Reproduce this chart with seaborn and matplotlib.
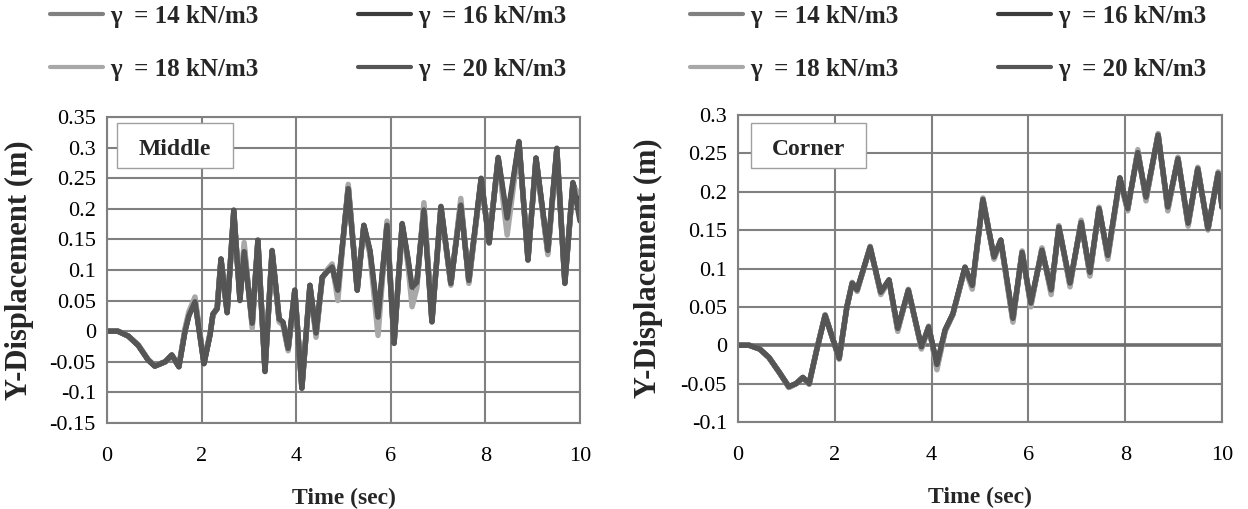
import numpy as np
import pandas as pd
import matplotlib
matplotlib.use("Agg")
import matplotlib.pyplot as plt
from matplotlib.lines import Line2D
from matplotlib.patches import Rectangle
import seaborn as sns

# ---------------- data ----------------
series_names = ["14", "16", "18", "20"]
legend_labels = ["\u03b3  = 14 kN/m3", "\u03b3  = 16 kN/m3", "\u03b3  = 18 kN/m3", "\u03b3  = 20 kN/m3"]

# Middle (left panel)
mid_t = [0, 0.23, 0.45, 0.66, 0.87, 1.01, 1.23, 1.37, 1.52, 1.65,
         1.73, 1.86, 2.05, 2.18, 2.24, 2.33, 2.41, 2.54, 2.68, 2.81,
         2.9, 3.07, 3.19, 3.34, 3.49, 3.64, 3.72, 3.83, 3.97, 4.12,
         4.29, 4.42, 4.55, 4.65, 4.76, 4.88, 5.1, 5.29, 5.43, 5.56,
         5.73, 5.92, 6.07, 6.24, 6.36, 6.45, 6.55, 6.7, 6.87, 7.06,
         7.27, 7.48, 7.65, 7.91, 8.08, 8.27, 8.46, 8.71, 8.9, 9.07,
         9.32, 9.51, 9.68, 9.85, 10.0]
mid_14 = [0, 0, -0.008, -0.023, -0.047, -0.057, -0.05, -0.039, -0.058, 0.002,
          0.028, 0.052, -0.052, -0.004, 0.027, 0.038, 0.117, 0.032, 0.195, 0.055,
          0.138, 0.01, 0.147, -0.063, 0.13, 0.018, 0.013, -0.03, 0.066, -0.092,
          0.074, -0.006, 0.087, 0.098, 0.107, 0.06, 0.237, 0.068, 0.172, 0.128,
          0.01, 0.176, -0.018, 0.174, 0.115, 0.06, 0.075, 0.204, 0.018, 0.202,
          0.077, 0.21, 0.08, 0.248, 0.147, 0.282, 0.17, 0.308, 0.118, 0.282,
          0.128, 0.297, 0.08, 0.24, 0.215]
mid_16 = [0, 0, -0.008, -0.023, -0.047, -0.057, -0.05, -0.039, -0.058, 0.001,
          0.026, 0.05, -0.053, -0.005, 0.028, 0.037, 0.118, 0.031, 0.197, 0.052,
          0.133, 0.012, 0.148, -0.065, 0.131, 0.019, 0.014, -0.029, 0.067, -0.093,
          0.075, -0.004, 0.088, 0.097, 0.106, 0.064, 0.235, 0.067, 0.173, 0.13,
          0.017, 0.174, -0.019, 0.175, 0.118, 0.066, 0.078, 0.2, 0.016, 0.203,
          0.078, 0.208, 0.082, 0.249, 0.145, 0.283, 0.178, 0.309, 0.117, 0.283,
          0.13, 0.298, 0.079, 0.242, 0.205]
mid_18 = [0, 0, -0.008, -0.022, -0.046, -0.056, -0.05, -0.04, -0.057, 0.005,
          0.032, 0.056, -0.05, -0.002, 0.025, 0.04, 0.115, 0.035, 0.19, 0.06,
          0.145, 0.005, 0.145, -0.06, 0.128, 0.015, 0.01, -0.032, 0.065, -0.09,
          0.072, -0.01, 0.085, 0.1, 0.11, 0.05, 0.24, 0.07, 0.17, 0.125,
          -0.007, 0.18, -0.015, 0.172, 0.11, 0.04, 0.07, 0.21, 0.02, 0.2,
          0.075, 0.217, 0.078, 0.245, 0.15, 0.28, 0.157, 0.305, 0.12, 0.28,
          0.125, 0.295, 0.085, 0.235, 0.225]
mid_20 = [0, 0, -0.008, -0.023, -0.047, -0.057, -0.05, -0.039, -0.058, 0.0,
          0.025, 0.048, -0.053, -0.005, 0.028, 0.037, 0.118, 0.03, 0.198, 0.05,
          0.13, 0.013, 0.149, -0.066, 0.132, 0.02, 0.015, -0.028, 0.067, -0.093,
          0.075, -0.003, 0.088, 0.097, 0.105, 0.067, 0.233, 0.067, 0.173, 0.132,
          0.023, 0.173, -0.02, 0.176, 0.12, 0.072, 0.08, 0.198, 0.015, 0.204,
          0.078, 0.206, 0.083, 0.25, 0.144, 0.284, 0.185, 0.31, 0.116, 0.283,
          0.132, 0.299, 0.078, 0.243, 0.18]

# Corner (right panel)
cor_t = [0, 0.23, 0.45, 0.64, 0.85, 1.05, 1.2, 1.34, 1.47, 1.63,
         1.8, 2.09, 2.25, 2.36, 2.46, 2.73, 2.95, 3.12, 3.3, 3.52,
         3.79, 3.94, 4.11, 4.28, 4.44, 4.69, 4.84, 5.06, 5.29, 5.43,
         5.68, 5.87, 6.05, 6.28, 6.47, 6.63, 6.86, 7.09, 7.27, 7.46,
         7.64, 7.89, 8.05, 8.26, 8.43, 8.68, 8.88, 9.09, 9.3, 9.5,
         9.71, 9.92, 10.0]
cor_14 = [0, 0, -0.005, -0.016, -0.035, -0.055, -0.05, -0.042, -0.05, -0.005,
          0.039, -0.018, 0.05, 0.081, 0.071, 0.128, 0.067, 0.085, 0.02, 0.072,
          -0.004, 0.024, -0.029, 0.019, 0.04, 0.101, 0.075, 0.191, 0.113, 0.136,
          0.032, 0.122, 0.052, 0.126, 0.069, 0.155, 0.078, 0.162, 0.092, 0.179,
          0.114, 0.217, 0.176, 0.253, 0.19, 0.275, 0.177, 0.244, 0.157, 0.231,
          0.151, 0.225, 0.183]
cor_16 = [0, 0, -0.005, -0.016, -0.035, -0.054, -0.05, -0.042, -0.05, -0.005,
          0.039, -0.017, 0.05, 0.081, 0.072, 0.127, 0.069, 0.085, 0.021, 0.071,
          -0.003, 0.024, -0.026, 0.02, 0.041, 0.101, 0.077, 0.189, 0.114, 0.137,
          0.034, 0.121, 0.054, 0.124, 0.071, 0.154, 0.08, 0.16, 0.094, 0.178,
          0.116, 0.218, 0.177, 0.252, 0.192, 0.274, 0.179, 0.243, 0.158, 0.23,
          0.151, 0.224, 0.18]
cor_18 = [0, 0, -0.005, -0.016, -0.035, -0.055, -0.05, -0.042, -0.051, -0.004,
          0.04, -0.018, 0.05, 0.082, 0.07, 0.129, 0.066, 0.084, 0.018, 0.073,
          -0.005, 0.025, -0.032, 0.018, 0.04, 0.1, 0.073, 0.192, 0.112, 0.135,
          0.03, 0.123, 0.05, 0.127, 0.066, 0.156, 0.076, 0.163, 0.09, 0.18,
          0.112, 0.216, 0.175, 0.255, 0.188, 0.276, 0.175, 0.245, 0.155, 0.232,
          0.15, 0.226, 0.185]
cor_20 = [0, 0, -0.005, -0.016, -0.035, -0.054, -0.05, -0.042, -0.05, -0.005,
          0.039, -0.017, 0.05, 0.081, 0.072, 0.128, 0.069, 0.085, 0.022, 0.072,
          -0.002, 0.024, -0.025, 0.02, 0.041, 0.102, 0.078, 0.19, 0.115, 0.137,
          0.035, 0.121, 0.055, 0.124, 0.072, 0.154, 0.081, 0.16, 0.095, 0.178,
          0.117, 0.218, 0.178, 0.251, 0.193, 0.274, 0.18, 0.243, 0.159, 0.23,
          0.152, 0.224, 0.18]

x_ticks = [0, 2, 4, 6, 8, 10]
x_tick_labels = ["0", "2", "4", "6", "8", "10"]
mid_y_ticks = [-0.15, -0.1, -0.05, 0, 0.05, 0.1, 0.15, 0.2, 0.25, 0.3, 0.35]
mid_y_tick_labels = ["-0.15", "-0.1", "-0.05", "0", "0.05", "0.1", "0.15", "0.2", "0.25", "0.3", "0.35"]
cor_y_ticks = [-0.1, -0.05, 0, 0.05, 0.1, 0.15, 0.2, 0.25, 0.3]
cor_y_tick_labels = ["-0.1", "-0.05", "0", "0.05", "0.1", "0.15", "0.2", "0.25", "0.3"]

colors = {"14": "#808080", "16": "#3c3c3c", "18": "#a8a8a8", "20": "#555555"}

# ---------------- style ----------------
sns.set_style("white")
plt.rcParams["font.family"] = ["Liberation Serif", "DejaVu Serif"]

W, H = 1248, 509
fig = plt.figure(figsize=(W / 100, H / 100), dpi=100)

def frac_box(x0, y0, x1, y1):
    return [x0 / W, 1 - y1 / H, (x1 - x0) / W, (y1 - y0) / H]

ax1 = fig.add_axes(frac_box(107, 117, 580, 423))
ax2 = fig.add_axes(frac_box(738, 115, 1222, 422))

def long_df(t, series):
    frames = []
    for name, vals in zip(series_names, series):
        frames.append(pd.DataFrame({"t": t, "v": vals, "s": name}))
    return pd.concat(frames, ignore_index=True)

panels = [
    (ax1, long_df(mid_t, [mid_14, mid_16, mid_18, mid_20]), (-0.15, 0.35), mid_y_ticks, mid_y_tick_labels, "Middle",
     (0.021, 0.833, 0.245, 0.147), (0.144, 0.893)),
    (ax2, long_df(cor_t, [cor_14, cor_16, cor_18, cor_20]), (-0.1, 0.3), cor_y_ticks, cor_y_tick_labels, "Corner",
     (0.027, 0.827, 0.238, 0.147), (0.145, 0.888)),
]

for ax, df, ylim, yt, ytl, name, box, tpos in panels:
    ax.set_axisbelow(True)
    ax.grid(True, color="#808080", linewidth=1.5)
    if name == "Corner":
        ax.axhline(0, color="#6e6e6e", linewidth=2.6, zorder=1)
    sns.lineplot(data=df, x="t", y="v", hue="s", hue_order=series_names,
                 palette=colors, linewidth=3.9, sort=False, legend=False, ax=ax,
                 solid_joinstyle="round", solid_capstyle="round")
    ax.set_xlim(0, 10)
    ax.set_ylim(*ylim)
    ax.set_xticks(x_ticks)
    ax.set_xticklabels(x_tick_labels)
    ax.set_yticks(yt)
    ax.set_yticklabels(ytl)
    ax.tick_params(axis="both", length=0, labelsize=16, colors="black")
    ax.tick_params(axis="y", pad=8)
    ax.tick_params(axis="x", pad=17)
    for sp in ax.spines.values():
        sp.set_visible(True)
        sp.set_color("#808080")
        sp.set_linewidth(1.5)
    ax.set_xlabel("Time (sec)", fontsize=17, fontweight="bold", va="center")
    ax.xaxis.set_label_coords(0.5, -0.245)
    ax.set_ylabel("Y-Displacement (m)", fontsize=22, fontweight="bold", va="center")
    ax.yaxis.set_label_coords(-0.185, 0.5)
    ax.add_patch(Rectangle((box[0], box[1]), box[2], box[3], transform=ax.transAxes,
                           facecolor="white", edgecolor="#a0a0a0", linewidth=1.0, zorder=5))
    ax.text(tpos[0], tpos[1], name, transform=ax.transAxes, ha="center", va="center",
            fontsize=17, fontweight="bold", zorder=6)

# ---------------- legends ----------------
order = [0, 2, 1, 3]
handles = [Line2D([0], [0], color=colors[series_names[i]], linewidth=3.0) for i in order]
labels = [legend_labels[i] for i in order]
for x_left in (50, 690):
    fig.legend(handles, labels, ncol=2, loc="upper left",
               bbox_to_anchor=(x_left / W, 1 - 5 / H), frameon=False,
               borderpad=0, borderaxespad=0, handlelength=2.1, handletextpad=0.3,
               columnspacing=4.0, labelspacing=1.2,
               prop={"family": "Liberation Serif", "weight": "bold", "size": 18})

fig.savefig("out.png", dpi=100)
